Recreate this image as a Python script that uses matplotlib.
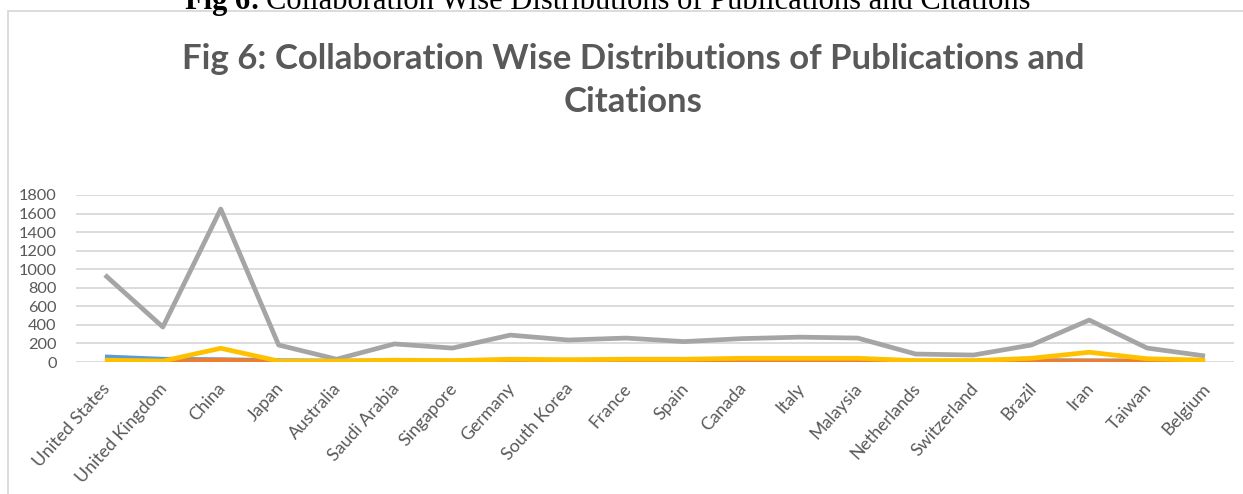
import matplotlib
matplotlib.use("Agg")
import matplotlib.pyplot as plt
from matplotlib.patches import Rectangle
from matplotlib.transforms import ScaledTranslation

countries = ["United States", "United Kingdom", "China", "Japan", "Australia",
             "Saudi Arabia", "Singapore", "Germany", "South Korea", "France",
             "Spain", "Canada", "Italy", "Malaysia", "Netherlands",
             "Switzerland", "Brazil", "Iran", "Taiwan", "Belgium"]

single_country = [55, 30, 25, 15, 10, 12, 10, 15, 12, 15, 12, 15, 15, 15, 10, 10, 15, 12, 12, 10]
multi_country = [10, 8, 20, 5, 5, 8, 6, 10, 8, 10, 10, 12, 12, 12, 6, 6, 10, 10, 8, 6]
citations = [938, 377, 1649, 183, 30, 195, 150, 290, 237, 258, 220, 252, 268, 258, 86, 75, 183, 452, 150, 65]
publications = [20, 10, 148, 10, 10, 20, 15, 30, 25, 30, 30, 40, 40, 40, 15, 15, 40, 105, 35, 20]

y_ticks = [0, 200, 400, 600, 800, 1000, 1200, 1400, 1600, 1800]

W, H = 1243, 494
fig = plt.figure(figsize=(W / 100, H / 100), dpi=100)
fig.patch.set_facecolor("white")

# chart frame
fig.patches.append(Rectangle((8 / W, -0.05), 1.05, (H - 11) / H + 0.05,
                             transform=fig.transFigure, fill=False,
                             edgecolor="#D9D9D9", linewidth=1.3))

# document caption above the chart: bold label followed by regular text
renderer = fig.canvas.get_renderer()
cap_y = 1 - 9 / H
cap_size = 22
cap_bold = fig.text(185 / W, cap_y, "Fig 6:", ha="left", va="baseline",
                    fontsize=cap_size, family="Liberation Serif", weight="bold",
                    color="black")
bb = cap_bold.get_window_extent(renderer)
fig.text((bb.x1 + 6) / W, cap_y, "Collaboration Wise Distributions of Publications and Citations",
         ha="left", va="baseline", fontsize=cap_size, family="Liberation Serif",
         color="black")

ax = fig.add_axes([76 / W, (H - 362) / H, 1158 / W, 167 / H])
x = list(range(len(countries)))

lw = 3.4
ax.plot(x, single_country, color="#5B9BD5", lw=lw, solid_capstyle="butt", zorder=3)
ax.plot(x, multi_country, color="#ED7D31", lw=lw, solid_capstyle="butt", zorder=4)
ax.plot(x, citations, color="#A5A5A5", lw=lw, solid_capstyle="butt", zorder=5)
ax.plot(x, publications, color="#FFC000", lw=lw, solid_capstyle="butt", zorder=6)

ax.set_xlim(-0.5, len(countries) - 0.5)
ax.set_ylim(0, 1800)
ax.set_yticks(y_ticks)
ax.set_yticklabels([str(v) for v in y_ticks])
ax.grid(axis="y", color="#D9D9D9", lw=1.3, zorder=0)
ax.set_axisbelow(True)
for s in ax.spines.values():
    s.set_visible(False)
ax.tick_params(axis="both", length=0, colors="#595959")
ax.tick_params(axis="y", pad=14)
ax.set_xticks(x)
ax.set_xticklabels(countries, rotation=48, ha="right", va="center",
                   rotation_mode="anchor")
ax.tick_params(axis="x", pad=17)
shift = ScaledTranslation(2 / 100, 0, fig.dpi_scale_trans)
for lab in ax.get_xticklabels():
    lab.set_transform(lab.get_transform() + shift)
    lab.set_fontsize(12.8)
for lab in ax.get_yticklabels():
    lab.set_fontsize(11.8)
for lab in ax.get_xticklabels() + ax.get_yticklabels():
    lab.set_family("Lato")
    lab.set_color("#595959")

fig.text(633 / W, 1 - 69 / H, "Fig 6: Collaboration Wise Distributions of Publications and",
         ha="center", va="baseline", fontsize=25, family="Lato", weight="bold", color="#595959")
fig.text(633 / W, 1 - 112 / H, "Citations",
         ha="center", va="baseline", fontsize=25, family="Lato", weight="bold", color="#595959")

fig.savefig("out.png", dpi=100)
